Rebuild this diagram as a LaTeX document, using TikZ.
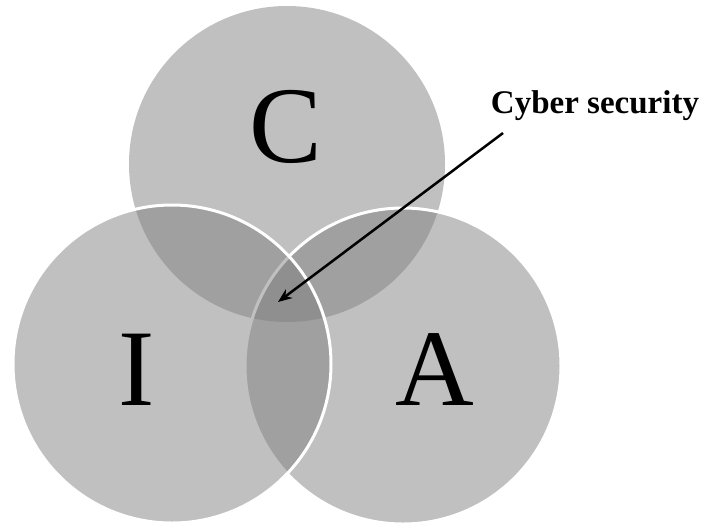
\documentclass[tikz,border=0pt]{standalone}
\usepackage{fontspec}
\setmainfont{Liberation Serif}
\usetikzlibrary{arrows.meta}
\definecolor{setgray}{RGB}{127,127,127}
\begin{document}
\begin{tikzpicture}[x=1pt,y=-1pt,
  setcircle/.style={circle, inner sep=0pt, fill=setgray, fill opacity=0.49},
  rimmed/.style={draw=white, line width=3pt},
  bigletter/.style={inner sep=0pt, anchor=base, font=\fontsize{109}{109}\selectfont},
  labeltext/.style={inner sep=0pt, anchor=base, font=\bfseries\fontsize{33}{33}\selectfont},
  pointer/.style={line width=2.5pt, -{Stealth[length=14pt,width=11pt]}}]
\fill[white] (0,0) rectangle (701,523);
\useasboundingbox (0,0) rectangle (701,523);
\node[setcircle, minimum size=316pt] (circC) at (287,164) {};
\node[setcircle, rimmed, minimum size=316pt] (circA) at (403,366) {};
\node[setcircle, rimmed, minimum size=318pt] (circI) at (172,364) {};
\node[bigletter] (letC) at (286,162) {C};
\node[bigletter] (letI) at (137,405) {I};
\node[bigletter] (letA) at (435,405) {A};
\node[labeltext] (cyber) at (595,113) {Cyber security};
\coordinate (arrowstart) at (503,133);
\coordinate (arrowtip) at (278,302);
\draw[pointer] (arrowstart) -- (arrowtip);
\end{tikzpicture}
\end{document}
